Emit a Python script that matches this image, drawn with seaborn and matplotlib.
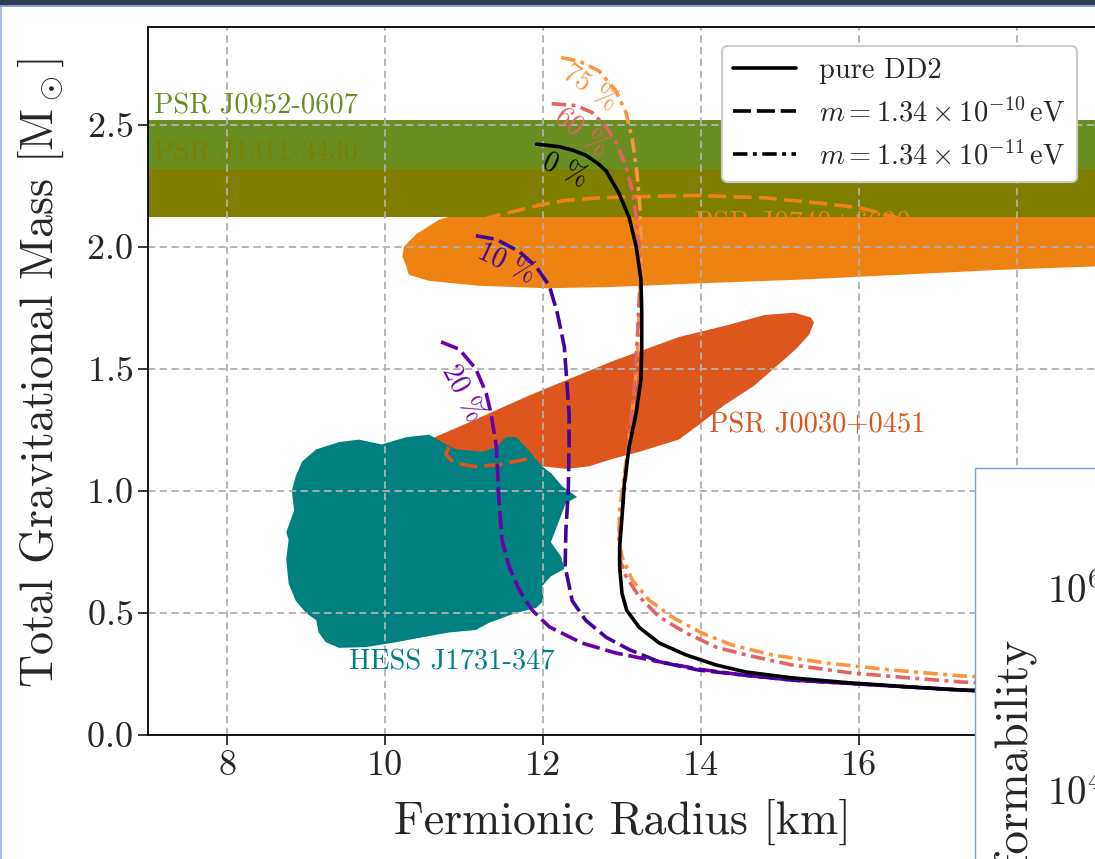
import numpy as np
import pandas as pd
import matplotlib
matplotlib.use("Agg")
import matplotlib.pyplot as plt
from matplotlib.patches import Rectangle
from matplotlib.lines import Line2D
import seaborn as sns

# ---------------- data (radius in km, mass in solar masses) ----------------
r_dd2 = [11.92, 12.20, 12.38, 12.54, 12.70, 12.80, 12.96, 13.09, 13.18, 13.24, 13.25, 13.25, 13.24, 13.18,
         13.09, 13.03, 12.99, 12.97, 12.97, 13.00, 13.06, 13.22, 13.47, 13.81, 14.19, 14.57,
         15.15, 15.91, 16.63, 17.30, 19.04]
m_dd2 = [2.42, 2.41, 2.395, 2.375, 2.34, 2.31, 2.22, 2.12, 2.00, 1.865, 1.73, 1.59, 1.455, 1.32,
         1.18, 1.03, 0.85, 0.77, 0.69, 0.58, 0.51, 0.44, 0.377, 0.328, 0.287, 0.258,
         0.234, 0.213, 0.197, 0.184, 0.164]

r_10 = [11.15, 11.41, 11.70, 11.91, 12.08, 12.18, 12.27, 12.30, 12.33, 12.33, 12.32, 12.29,
        12.28, 12.37, 12.54, 12.80, 13.09, 13.47, 13.97, 14.52, 15.15, 16.00, 17.30, 19.04]
m_10 = [2.045, 2.03, 1.98, 1.92, 1.84, 1.73, 1.59, 1.455, 1.32, 1.18, 1.00, 0.84,
        0.69, 0.55, 0.47, 0.40, 0.35, 0.30, 0.266, 0.246, 0.225, 0.209, 0.184, 0.164]

r_20 = [10.71, 10.94, 11.15, 11.28, 11.34, 11.41, 11.44, 11.48, 11.57, 11.70, 11.86, 12.08,
        12.49, 12.92, 13.47, 13.97, 14.52, 15.15, 16.00, 17.30, 19.04]
m_20 = [1.61, 1.58, 1.50, 1.40, 1.32, 1.18, 0.975, 0.80, 0.69, 0.594, 0.512, 0.443,
        0.377, 0.336, 0.30, 0.27, 0.246, 0.225, 0.209, 0.184, 0.164]

r_60 = [12.11, 12.42, 12.62, 12.80, 12.92, 13.05, 13.13, 13.18, 13.22, 13.23, 13.20, 13.15,
        13.09, 13.03, 12.97, 12.97, 13.05, 13.22, 13.47, 13.81, 14.19, 14.57, 15.15, 15.91,
        16.63, 17.30, 19.04]
m_60 = [2.586, 2.578, 2.55, 2.49, 2.43, 2.33, 2.23, 2.12, 2.00, 1.865, 1.66, 1.41,
        1.21, 1.00, 0.83, 0.72, 0.65, 0.566, 0.484, 0.418, 0.36, 0.328, 0.287, 0.254,
        0.234, 0.217, 0.197]

r_75 = [12.23, 12.46, 12.71, 12.92, 13.05, 13.13, 13.19, 13.23, 13.24, 13.23, 13.19, 13.13,
        13.05, 12.97, 12.96, 13.00, 13.13, 13.34, 13.63, 14.01, 14.39, 14.90, 15.58, 16.42,
        17.30, 19.04]
m_75 = [2.775, 2.76, 2.72, 2.64, 2.55, 2.44, 2.30, 2.15, 2.00, 1.82, 1.52, 1.32,
        1.115, 0.92, 0.80, 0.73, 0.635, 0.553, 0.484, 0.418, 0.369, 0.328, 0.295, 0.266,
        0.242, 0.217]

# observational constraints
j0952_mass = (2.35, 0.17)
j1311_mass = (2.22, 0.10)

hess_r = [8.95, 9.13, 9.42, 9.67, 9.96, 10.27, 10.56, 10.72, 10.90, 11.23, 11.41, 11.53,
          11.66, 11.78, 11.86, 11.99, 12.11, 12.24, 12.43, 12.29, 12.23, 12.10, 12.23, 12.27,
          12.10, 11.99, 12.01, 11.91, 11.66, 11.32, 11.15, 10.81, 10.47, 10.14, 9.76, 9.42,
          9.25, 9.16, 9.13, 9.00, 8.87, 8.78, 8.75, 8.78, 8.75, 8.85, 8.82, 8.87]
hess_m = [1.12, 1.17, 1.20, 1.21, 1.19, 1.22, 1.23, 1.20, 1.17, 1.16, 1.18, 1.22,
          1.22, 1.18, 1.15, 1.10, 1.07, 1.02, 0.975, 0.95, 0.90, 0.79, 0.73, 0.68,
          0.65, 0.61, 0.55, 0.52, 0.50, 0.46, 0.43, 0.42, 0.40, 0.38, 0.36, 0.357,
          0.38, 0.42, 0.47, 0.50, 0.55, 0.62, 0.72, 0.80, 0.83, 0.92, 1.00, 1.06]

j0030_r = [10.49, 11.06, 11.82, 12.87, 13.72, 14.35, 14.80, 15.18, 15.39, 15.43, 15.37, 15.20,
           14.99, 14.67, 14.29, 13.97, 13.72, 13.22, 12.87, 12.58, 12.29, 12.01, 11.70, 11.19, 10.68]
j0030_m = [1.20, 1.28, 1.39, 1.53, 1.63, 1.68, 1.72, 1.73, 1.71, 1.69, 1.64, 1.58,
           1.52, 1.43, 1.35, 1.27, 1.21, 1.16, 1.13, 1.10, 1.09, 1.10, 1.12, 1.13, 1.14]
j0030_dash_r = [10.81, 10.77, 10.87, 11.13, 11.44, 11.86, 12.20]
j0030_dash_m = [1.18, 1.15, 1.115, 1.10, 1.107, 1.135, 1.17]

j0740_r = [10.68, 10.39, 10.24, 10.22, 10.27, 10.30, 10.56, 11.19, 12.04, 12.87, 13.97, 15.24,
           16.51, 17.77, 19.04, 20.3, 20.3, 16.51, 13.97, 12.08, 11.19]
j0740_m = [2.11, 2.05, 2.00, 1.96, 1.92, 1.885, 1.86, 1.84, 1.83, 1.835, 1.85, 1.865,
           1.885, 1.905, 1.92, 1.94, 2.19, 2.21, 2.21, 2.19, 2.16]
j0740_dash_r = [10.80, 10.94, 11.32, 11.57, 11.95, 12.29, 12.71, 13.13, 13.97, 14.82, 15.46,
                16.00, 16.25, 16.47, 16.57]
j0740_dash_m = [1.98, 2.07, 2.12, 2.14, 2.17, 2.19, 2.20, 2.205, 2.21, 2.20, 2.18,
                2.16, 2.14, 2.12, 2.07]

x_ticks = [8, 10, 12, 14, 16, 18]
x_tick_labels = ["8", "10", "12", "14", "16", ""]   # "18" lies under the neighbouring panel
legend_labels = ["pure DD2", r"$m = 1.34\times10^{-10}\,\mathrm{eV}$",
                 r"$m = 1.34\times10^{-11}\,\mathrm{eV}$"]
inset_tick_labels = [r"$10^{6}$", r"$10^{4}$"]

# ---------------- style ----------------
sns.set_style("ticks")
plt.rcParams.update({
    "font.family": ["cmr10", "DejaVu Serif"],
    "mathtext.fontset": "cm",
    "axes.formatter.use_mathtext": True,
    "axes.unicode_minus": False,
    "axes.edgecolor": "black",
    "axes.linewidth": 1.3,
})

plasma = sns.color_palette("plasma", as_cmap=True)
c10, c20, c60, c75 = plasma(0.1), plasma(0.2), plasma(0.6), plasma(0.75)
c_teal = "#008080"
c_j0030 = "#dc561d"
c_j0740 = "#ee8312"
c_j0952 = "#6b8e23"
c_j1311 = "#808000"

W, H = 1095, 859
fig = plt.figure(figsize=(W / 100, H / 100), dpi=100)
ax = fig.add_axes([148 / W, 124 / H, 948 / W, 708 / H])
ax.set_xlim(7, 19)
ax.set_ylim(0, 2.9)

# filled constraint regions
ax.fill(j0740_r, j0740_m, color=c_j0740, lw=0, zorder=0.8)
ax.fill(j0030_r, j0030_m, color=c_j0030, lw=0, zorder=0.9)
ax.fill(hess_r, hess_m, color=c_teal, lw=0, zorder=1.0)
ax.axhspan(j0952_mass[0] - j0952_mass[1], j0952_mass[0] + j0952_mass[1],
           color=c_j0952, lw=0, zorder=1.1)
ax.axhspan(j1311_mass[0] - j1311_mass[1], j1311_mass[0] + j1311_mass[1],
           color=c_j1311, lw=0, zorder=1.2)

# grid
ax.set_xticks(x_ticks)
ax.set_xticklabels(x_tick_labels)
ax.set_yticks(np.arange(0, 2.6, 0.5))
ax.grid(True, ls=(0, (4, 2.5)), color="#b0b0b0", lw=1.3, zorder=1.5)
ax.set_axisbelow("line")

# dashed contours
ax.plot(j0740_dash_r, j0740_dash_m, color=c_j0740, lw=2.6, ls=(0, (5.0, 2.0)), zorder=1.6)
ax.plot(j0030_dash_r, j0030_dash_m, color=c_j0030, lw=2.6, ls=(0, (5.0, 2.0)), zorder=1.6)

# labels of regions
ax.text(7.08, 2.545, "PSR J0952-0607", color=c_j0952, fontsize=20.5, va="baseline", zorder=1.7)
ax.text(7.08, 2.355, "PSR J1311-3430", color=c_j1311, fontsize=20.5, va="baseline", zorder=1.7)
ax.text(13.91, 2.065, "PSR J0740+6620", color=c_j0740, fontsize=20.5, va="baseline", zorder=1.7)
ax.text(14.10, 1.24, "PSR J0030+0451", color=c_j0030, fontsize=20.5, va="baseline", zorder=1.7)
ax.text(9.54, 0.27, "HESS J1731-347", color=c_teal, fontsize=20.5, va="baseline", zorder=1.7)

# mass-radius curves
LW = 2.6
dash_ls = (0, (5.0, 1.6))
dashdot_ls = (0, (4.0, 1.5, 1.1, 1.5))
curves = [
    (r_75, m_75, c75, dashdot_ls),
    (r_60, m_60, c60, dashdot_ls),
    (r_20, m_20, c20, dash_ls),
    (r_10, m_10, c10, dash_ls),
    (r_dd2, m_dd2, "black", "-"),
]
for rr, mm, cc, ls in curves:
    sns.lineplot(x=rr, y=mm, sort=False, estimator=None, color=cc, lw=LW,
                 linestyle=ls, ax=ax, zorder=2)

# fraction labels
for txt, x, y, rot, cc in [("0 %", 12.28, 2.31, -25, "black"),
                           ("10 %", 11.53, 1.93, -25, c10),
                           ("20 %", 10.97, 1.40, -62, c20),
                           ("60 %", 12.49, 2.47, -38, c60),
                           ("75 %", 12.59, 2.65, -35, c75)]:
    ax.text(x, y, txt, color=cc, fontsize=20, rotation=rot, rotation_mode="anchor",
            ha="center", va="center", zorder=3)

# axes cosmetics
ax.tick_params(axis="both", labelsize=26, length=7, width=1.3, direction="out", pad=4)
ax.set_xlabel("Fermionic Radius [km]", fontsize=33)
ax.set_ylabel(r"Total Gravitational Mass [$\mathrm{M}_\odot$]", fontsize=33)
ax.xaxis.set_label_coords(0.5, -0.09)
ax.yaxis.set_label_coords(-0.087, 0.512)
for s in ax.spines.values():
    s.set_visible(True)
    s.set_color("black")

handles = [Line2D([], [], color="black", lw=LW, ls="-"),
           Line2D([], [], color="black", lw=LW, ls=dash_ls),
           Line2D([], [], color="black", lw=LW, ls=dashdot_ls)]
leg = ax.legend(handles, legend_labels, loc="upper right", fontsize=20.5,
                borderaxespad=0.68, handlelength=2.2, fancybox=True, framealpha=1.0,
                edgecolor="#cccccc")
leg.get_frame().set_linewidth(1.5)
leg.set_zorder(4)

# overlapping neighbouring panel (cut off at the right edge)
fig.add_artist(Rectangle((975 / W, -0.01), 0.2, (859 - 468) / H + 0.01,
                         transform=fig.transFigure, facecolor="white",
                         edgecolor="#7d9fd3", lw=1.0, zorder=5))
fig.text(1047 / W, 1 - 603 / H, inset_tick_labels[0], fontsize=28, ha="left",
         va="baseline", zorder=6)
fig.text(1047 / W, 1 - 805 / H, inset_tick_labels[1], fontsize=28, ha="left",
         va="baseline", zorder=6)
fig.text(1016 / W, 1 - 640 / H, "Tidal Deformability", fontsize=34, rotation=90,
         rotation_mode="anchor", ha="right", va="center", zorder=6)

# page frame
fig.add_artist(Rectangle((0, 1 - 5 / H), 1, 5 / H, transform=fig.transFigure,
                         facecolor="#2c3e50", lw=0, zorder=10))
fig.add_artist(Rectangle((0, 1 - 7 / H), 1, 2 / H, transform=fig.transFigure,
                         facecolor="#7ea2d3", lw=0, zorder=10))
fig.add_artist(Rectangle((0, 0), 2 / W, 1 - 7 / H, transform=fig.transFigure,
                         facecolor="#a9c0e0", lw=0, zorder=10))

fig.savefig("out.png", dpi=100)
